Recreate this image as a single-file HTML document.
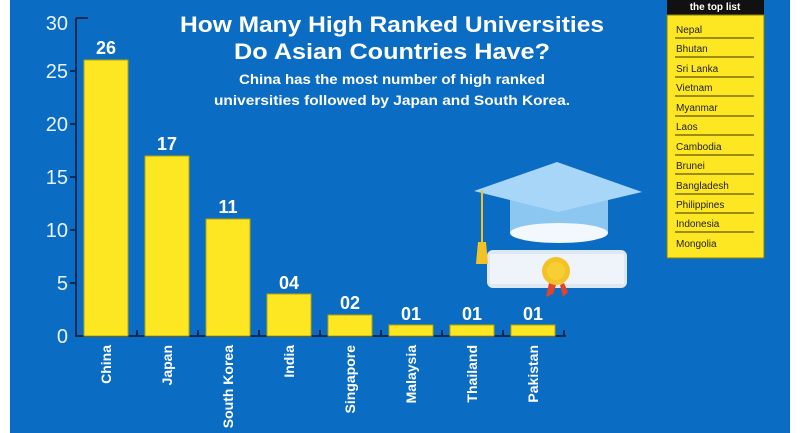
<!DOCTYPE html>
<html><head><meta charset="utf-8"><style>
html,body{margin:0;padding:0;background:#fff;width:800px;height:433px;overflow:hidden}
svg{display:block}
text{font-family:"Liberation Sans","DejaVu Sans",sans-serif}
</style></head><body>
<svg width="800" height="433" viewBox="0 0 800 433" xmlns="http://www.w3.org/2000/svg">
<rect x="10" y="0" width="780" height="433" fill="#0b6cc3"/>
<!-- axis -->
<g stroke="#0b2a55" stroke-width="2" fill="none">
<line x1="76" y1="18" x2="76" y2="337"/>
<line x1="76" y1="336" x2="566" y2="336"/>
<line x1="76" y1="18" x2="88" y2="18"/>
<line x1="70" y1="283" x2="76" y2="283"/><line x1="70" y1="230" x2="76" y2="230"/>
<line x1="70" y1="177" x2="76" y2="177"/><line x1="70" y1="124" x2="76" y2="124"/>
<line x1="70" y1="71" x2="76" y2="71"/>
<line x1="137" y1="330" x2="137" y2="336"/><line x1="198" y1="330" x2="198" y2="336"/>
<line x1="259" y1="330" x2="259" y2="336"/><line x1="320" y1="330" x2="320" y2="336"/>
<line x1="381" y1="330" x2="381" y2="336"/><line x1="442" y1="330" x2="442" y2="336"/>
<line x1="503" y1="330" x2="503" y2="336"/><line x1="564" y1="330" x2="564" y2="336"/>
</g>
<g fill="#e8f2fb" font-size="20" text-anchor="end">
<text x="68" y="30">30</text><text x="68" y="78">25</text><text x="68" y="131">20</text>
<text x="68" y="184">15</text><text x="68" y="237">10</text><text x="68" y="290">5</text>
<text x="68" y="343">0</text>
</g>
<!-- bars -->
<g fill="#fde722" stroke="#b8a400" stroke-width="1">
<rect x="84" y="60" width="44" height="276"/>
<rect x="145" y="156" width="44" height="180"/>
<rect x="206" y="219" width="44" height="117"/>
<rect x="267" y="294" width="44" height="42"/>
<rect x="328" y="315" width="44" height="21"/>
<rect x="389" y="325" width="44" height="11"/>
<rect x="450" y="325" width="44" height="11"/>
<rect x="511" y="325" width="44" height="11"/>
</g>
<g fill="#fff" font-size="18" font-weight="bold" text-anchor="middle">
<text x="106" y="54">26</text><text x="167" y="150">17</text><text x="228" y="213">11</text>
<text x="289" y="289">04</text><text x="350" y="309">02</text><text x="411" y="320">01</text>
<text x="472" y="320">01</text><text x="533" y="320">01</text>
</g>
<g fill="#fff" font-size="14" font-weight="bold" text-anchor="end">
<text transform="translate(111,345) rotate(-90)">China</text>
<text transform="translate(172,345) rotate(-90)">Japan</text>
<text transform="translate(233,345) rotate(-90)">South Korea</text>
<text transform="translate(294,345) rotate(-90)">India</text>
<text transform="translate(355,345) rotate(-90)">Singapore</text>
<text transform="translate(416,345) rotate(-90)">Malaysia</text>
<text transform="translate(477,345) rotate(-90)">Thailand</text>
<text transform="translate(538,345) rotate(-90)">Pakistan</text>
</g>
<!-- titles -->
<g fill="#fff" font-weight="bold" text-anchor="middle">
<text x="392" y="32" font-size="22" textLength="424" lengthAdjust="spacingAndGlyphs">How Many High Ranked Universities</text>
<text x="392" y="59" font-size="22" textLength="316" lengthAdjust="spacingAndGlyphs">Do Asian Countries Have?</text>
<text x="392" y="84" font-size="14" textLength="306" lengthAdjust="spacingAndGlyphs">China has the most number of high ranked</text>
<text x="392" y="105" font-size="14" textLength="356" lengthAdjust="spacingAndGlyphs">universities followed by Japan and South Korea.</text>
</g>
<!-- graduation illustration -->
<g>
<rect x="487" y="250" width="140" height="38" rx="6" fill="#dde8f2"/>
<rect x="490" y="254" width="134" height="30" fill="#eef4f9"/>
<polygon points="549,283 546,297 553,294 556,285" fill="#e0452a"/>
<polygon points="560,285 563,297 568,292 564,283" fill="#e0452a"/>
<circle cx="556" cy="271" r="14" fill="#f2c227"/>
<circle cx="556" cy="271" r="9" fill="#f7cf35"/>
<rect x="510" y="183" width="98" height="50" fill="#8cc7f2"/>
<ellipse cx="559" cy="233" rx="49" ry="10" fill="#f2f8fd"/>
<polygon points="557,162 642,192 558,212 474,191" fill="#a8d6f8"/>
<line x1="482" y1="190" x2="482" y2="245" stroke="#f2c227" stroke-width="2"/>
<path d="M478,242 L486,242 L488,264 L476,264 Z" fill="#f2c227"/>
</g>
<!-- top list -->
<rect x="667" y="0" width="97" height="15" fill="#111"/>
<text x="715" y="10" fill="#fff" font-size="10" font-weight="bold" text-anchor="middle">the top list</text>
<rect x="667" y="15" width="97" height="243" fill="#fde722" stroke="#8a7d00" stroke-width="1"/>
<g fill="#222" font-size="10">
<text x="676" y="33">Nepal</text><text x="676" y="52">Bhutan</text><text x="676" y="72">Sri Lanka</text>
<text x="676" y="91">Vietnam</text><text x="676" y="111">Myanmar</text><text x="676" y="130">Laos</text>
<text x="676" y="150">Cambodia</text><text x="676" y="169">Brunei</text><text x="676" y="189">Bangladesh</text>
<text x="676" y="208">Philippines</text><text x="676" y="227">Indonesia</text><text x="676" y="247">Mongolia</text>
</g>
<g stroke="#3a3000" stroke-width="1">
<line x1="675" y1="38" x2="754" y2="38"/><line x1="675" y1="57" x2="754" y2="57"/>
<line x1="675" y1="77" x2="754" y2="77"/><line x1="675" y1="96" x2="754" y2="96"/>
<line x1="675" y1="116" x2="754" y2="116"/><line x1="675" y1="135" x2="754" y2="135"/>
<line x1="675" y1="155" x2="754" y2="155"/><line x1="675" y1="174" x2="754" y2="174"/>
<line x1="675" y1="194" x2="754" y2="194"/><line x1="675" y1="213" x2="754" y2="213"/>
<line x1="675" y1="232" x2="754" y2="232"/>
</g>
</svg>
</body></html>
